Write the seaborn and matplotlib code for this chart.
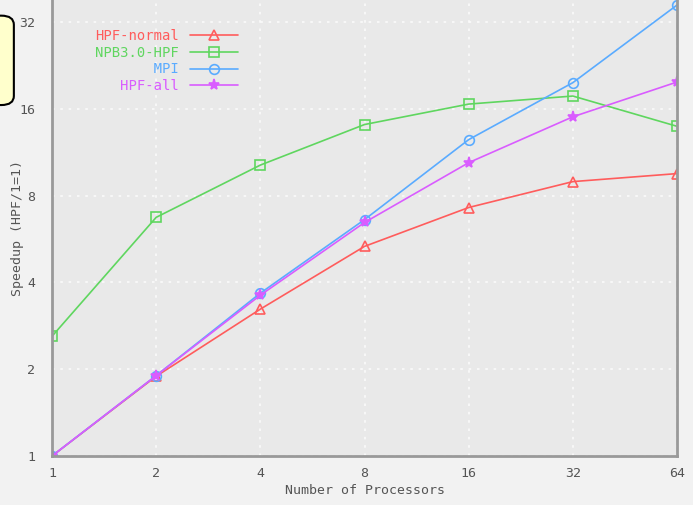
import numpy as np
import pandas as pd
import matplotlib
matplotlib.use("Agg")
import matplotlib.pyplot as plt
import seaborn as sns
from matplotlib.patches import FancyBboxPatch

processors = [1, 2, 4, 8, 16, 32, 64]
hpf_normal = [1.0, 1.89, 3.23, 5.33, 7.27, 8.94, 9.53]
npb_hpf = [2.60, 6.72, 10.2, 14.1, 16.6, 17.7, 13.9]
mpi = [1.0, 1.90, 3.67, 6.6, 12.5, 19.7, 36.6]
hpf_all = [1.0, 1.90, 3.61, 6.45, 10.4, 15.0, 19.8]
series_names = ["HPF-normal", "NPB3.0-HPF", "MPI", "HPF-all"]
tick_vals = [1, 2, 4, 8, 16, 32, 64]

df = pd.DataFrame({
    "procs": processors * 4,
    "speedup": hpf_normal + npb_hpf + mpi + hpf_all,
    "series": sum([[n] * 7 for n in series_names], []),
})

sns.set_style("white")
plt.rcParams["font.family"] = ["DejaVu Sans Mono"]

fig = plt.figure(figsize=(6.93, 5.05), dpi=100)
fig.patch.set_facecolor("#f2f2f2")
ax = fig.add_axes([0.075, 0.097, 0.902, 0.903])
ax.set_facecolor("#e9e9e9")

colors = {"HPF-normal": "#ff5c5c", "NPB3.0-HPF": "#5fd65f",
          "MPI": "#5aabff", "HPF-all": "#d95cff"}
markers = {"HPF-normal": "^", "NPB3.0-HPF": "s", "MPI": "o", "HPF-all": "*"}

for name in series_names:
    sub = df[df.series == name]
    sns.lineplot(data=sub, x="procs", y="speedup", ax=ax, color=colors[name],
                 marker=markers[name], markersize=7 if name != "HPF-all" else 8,
                 markerfacecolor="none" if name != "HPF-all" else colors[name],
                 markeredgecolor=colors[name], markeredgewidth=1.2,
                 linewidth=1.2, label=name)

ax.set_xscale("log", base=2)
ax.set_yscale("log", base=2)
ax.set_xlim(1, 64)
ax.set_ylim(1, 38.1)
ax.set_xticks(tick_vals)
ax.set_xticklabels([str(v) for v in tick_vals])
ax.set_yticks([1, 2, 4, 8, 16, 32])
ax.set_yticklabels(["1", "2", "4", "8", "16", "32"])
ax.minorticks_off()
ax.tick_params(axis="both", colors="#555555", labelsize=9.5, length=6, width=1.2,
               direction="in", labelcolor="#555555")
ax.tick_params(axis="x", pad=8)
ax.tick_params(axis="y", pad=12)
ax.grid(True, color="#fbfbfb", linestyle=(0, (1.5, 3.5)), linewidth=1.2)
for s in ["left", "right", "bottom", "top"]:
    ax.spines[s].set_color("#999999")
    ax.spines[s].set_linewidth(2)
ax.spines["top"].set_visible(False)

ax.set_xlabel("Number of Processors", fontsize=9.5, color="#555555", labelpad=3)
ax.set_ylabel("Speedup (HPF/1=1)", fontsize=9.5, color="#555555")
ax.yaxis.set_label_coords(-0.044, 0.5)

labels_padded = [n.rjust(10) for n in series_names]
handles, _ = ax.get_legend_handles_labels()
leg = ax.legend(handles, labels_padded, loc="upper left", bbox_to_anchor=(0.055, 0.955),
                frameon=False, markerfirst=False, fontsize=10, handlelength=3.5,
                labelspacing=0.2, borderaxespad=0.2, handletextpad=0.8)
for t, n in zip(leg.get_texts(), series_names):
    t.set_color(colors[n])

box = FancyBboxPatch((-0.03, 0.792), 0.05, 0.177, boxstyle="round,pad=0,rounding_size=0.018",
                     transform=fig.transFigure, facecolor="#ffffcc", edgecolor="black",
                     linewidth=1.5, clip_on=False)
fig.patches.append(box)

fig.savefig("out.png", dpi=100, facecolor=fig.get_facecolor())
